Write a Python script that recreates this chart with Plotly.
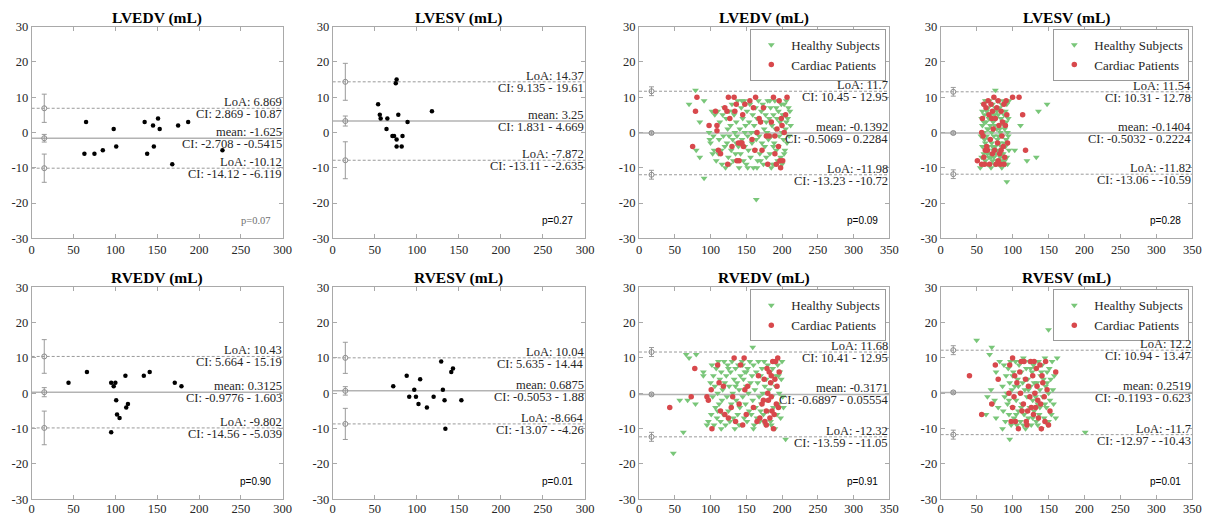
import plotly.graph_objects as go

SERIF = "Liberation Serif"
SANS = "Liberation Sans"

# ---------------- panel-level data ----------------
titles = ["LVEDV (mL)", "LVESV (mL)", "LVEDV (mL)", "LVESV (mL)",
          "RVEDV (mL)", "RVESV (mL)", "RVEDV (mL)", "RVESV (mL)"]
x_max = [300, 300, 350, 350, 300, 300, 350, 350]
ci_marker_x = [15, 15, 17.5, 17.5, 15, 15, 17.5, 17.5]
p_values = ["p=0.07", "p=0.27", "p=0.09", "p=0.28", "p=0.90", "p=0.01", "p=0.91", "p=0.01"]

loa_upper = [6.869, 14.37, 11.7, 11.54, 10.43, 10.04, 11.68, 12.2]
loa_upper_ci = [(2.869, 10.87), (9.135, 19.61), (10.45, 12.95), (10.31, 12.78),
                (5.664, 15.19), (5.635, 14.44), (10.41, 12.95), (10.94, 13.47)]
mean_diff = [-1.625, 3.25, -0.1392, -0.1404, 0.3125, 0.6875, -0.3171, 0.2519]
mean_ci = [(-2.708, -0.5415), (1.831, 4.669), (-0.5069, 0.2284), (-0.5032, 0.2224),
           (-0.9776, 1.603), (-0.5053, 1.88), (-0.6897, 0.05554), (-0.1193, 0.623)]
loa_lower = [-10.12, -7.872, -11.98, -11.82, -9.802, -8.664, -12.32, -11.7]
loa_lower_ci = [(-14.12, -6.119), (-13.11, -2.635), (-13.23, -10.72), (-13.06, -10.59),
                (-14.56, -5.039), (-13.07, -4.26), (-13.59, -11.05), (-12.97, -10.43)]

# ---------------- small cohort (mean, difference) ----------------
lvedv_small = [(65, 3), (98, 1), (135, 3), (145, 2), (151, 4), (153, 1), (175, 2), (187, 3),
               (63, -6), (75, -6), (85, -5), (101, -4), (138, -6), (146, -4), (168, -9), (228, -5)]
lvesv_small = [(54, 8), (56, 5), (57, 4), (65, 4), (64, 1), (76, 15), (75, 14), (78, 5),
               (71, -1), (73, -1), (76, -2), (76, -4), (82, -4), (83, -1), (89, 3), (118, 6)]
rvedv_small = [(44, 3), (66, 6), (95, 3), (98, 2), (100, 3), (101, -2), (102, -6), (105, -7),
               (95, -11), (112, 5), (113, -4), (115, -3), (134, 5), (141, 6), (171, 3), (179, 2)]
rvesv_small = [(72, 2), (88, 5), (91, -1), (97, 1), (99, -1), (102, -3), (104, 4), (112, -4),
               (120, -1), (129, 9), (131, 1), (133, -2), (134, -10), (141, 6), (143, 7), (153, -2)]

# ---------------- large cohort ----------------
lvedv_healthy = [
    (70, 8), (79, 12), (85, 3), (85, -7), (91, 9), (91, -13), (80, -5), (164, -19), (98, 0), (99, -2), (100, -3), (103, -6),
    (102, 6), (104, -1), (106, 5), (108, -8), (110, 6), (112, -2), (113, 3), (115, -5), (116, -9), (118, -1), (119, 7),
    (120, -4), (105, -5), (111, -6), (117, 5),
    (121, -10), (122, 4), (123, -3), (124, 1), (125, -7), (126, 6), (127, -9), (128, 2), (129, -5), (130, 8), (131, -2),
    (132, -8), (133, 5), (134, 0), (135, -6), (136, 3), (137, -1), (138, 9), (139, -4), (140, -10), (126, -1), (131, 6), (136, -3),
    (141, 1), (142, -6), (143, 7), (144, -2), (145, 4), (146, -8), (147, 9), (148, -4), (149, 2), (150, -9), (151, 6),
    (152, -1), (153, -5), (154, 3), (155, 8), (156, -7), (157, 0), (158, -3), (159, 5), (160, -10), (144, 9), (152, -10), (148, 0),
    (161, 2), (162, -5), (163, 7), (164, -2), (165, 4), (166, -8), (167, 9), (168, -1), (169, -6), (170, 3), (171, 6),
    (172, -3), (173, 8), (174, -9), (175, 1), (176, -4), (177, 5), (178, -7), (179, 0), (180, 9), (165, -10), (170, -8),
    (175, 7), (178, 3), (163, 0),
    (181, -2), (182, 4), (183, -6), (184, 7), (185, -1), (186, 2), (187, -9), (188, 5), (189, -3), (190, 9), (191, 1),
    (192, -5), (193, 4), (194, -8), (195, 6), (196, -1), (197, 3), (198, -7), (199, 8), (200, 0), (185, -10), (190, -9),
    (192, 7), (188, -4), (195, -4), (183, 9),
    (201, 5), (202, -2), (203, 8), (204, -5), (205, 1), (206, 9), (207, -3), (208, 4), (209, 7), (210, -1), (211, 6),
    (212, 2), (203, -6), (206, 3), (200, -9), (204, 5)]
lvedv_patients = [
    (81, 10), (79, 6), (75, -4), (98, 2), (109, 2), (109, 0.5), (111, -5), (114, -6), (107, 6), (120, 7), (125, 10),
    (124, -9), (123, 6), (127, 4), (130, -4), (133, 10), (134, 6), (136, 8), (137, -8), (139, -3), (142, -3), (144, -3),
    (145, 5), (146, -4), (140, -8), (148, 8), (155, 9), (158, -2), (160, 7), (162, -5), (163, 10), (165, 0), (168, 4),
    (170, 3), (172, -5), (174, 7), (178, -1), (180, -9), (182, -1), (185, 3), (188, 10), (190, -1), (190, -6), (192, -9),
    (193, 1), (195, -4), (196, 9), (197, -8), (198, -10), (199, 4), (200, 2), (201, -8), (203, 0), (205, 5), (207, 10)]

lvesv_healthy = [
    (76, 12), (92, -14), (103, -5), (111, 2), (120, -8), (133, -7), (136, 6), (148, 8), (55, -10),
    (56, -1), (57, 4), (57, -7), (58, 2), (58, -4), (59, 8), (59, -9), (60, 0), (60, -6), (61, 5), (61, -2), (62, 9),
    (62, -8), (63, 3), (63, -5), (64, -1), (64, 6), (65, -9), (65, 1), (66, 7), (66, -4), (67, -7), (67, 4), (68, -2),
    (68, 9), (69, 2), (69, -6), (70, -10), (70, 5), (71, 0), (71, -3), (72, 8), (72, -8), (73, 3), (73, -5), (74, 6),
    (74, -1), (75, -9), (75, 2), (76, 7), (76, -4), (77, -6), (77, 4), (78, 1), (78, -8), (79, 9), (79, -2), (80, -5),
    (80, 5), (81, 2), (81, -9), (82, -3), (82, 7), (83, 0), (83, -7), (84, 4), (84, -4), (85, 8), (85, -10), (86, -1),
    (86, 3), (87, 9), (87, -6), (88, -3), (88, 5), (89, 1), (89, -8), (90, 6), (90, -4), (91, -2), (91, 3), (92, 8),
    (92, -7), (93, 0), (93, -9), (94, 4), (95, -5), (95, 9), (60, 3), (65, -6), (70, -7), (75, 5), (80, -1), (85, 6),
    (90, -9), (62, -3), (68, 4), (72, -4), (78, 6), (84, -6), (88, 2), (66, 1), (74, -7), (82, 1), (58, 6), (64, 9),
    (76, -9), (86, -8), (94, -1)]
lvesv_patients = [
    (51, -8), (100, 10), (109, 10), (114, 5), (118, -5), (57, -9), (58, 4), (59, -1), (60, 8), (61, -9), (62, -5),
    (63, 7), (64, -4), (66, 9), (67, 5), (68, -9), (69, -2), (70, 8), (71, 4), (72, -6), (73, 1), (74, 10), (75, -5),
    (76, 4), (77, -9), (78, 7), (79, -3), (80, 9), (81, 2), (82, -6), (83, -9), (84, 6), (85, -1), (86, 3), (87, -4),
    (88, 8), (89, -7), (90, 2), (91, 9), (92, 5), (93, -3), (60, -7), (65, -5), (72, 6), (80, -8), (88, -9), (57, 0), (84, -5)]

rvedv_healthy = [
    (66, 11), (70, 10), (80, 11), (62, -11), (48, -17), (57, -2), (68, -2), (79, -3), (159, 13), (205, -13), (90, 6),
    (90, 5), (95, -9), (97, -8),
    (100, 3), (101, -6), (102, 8), (103, -1), (104, 5), (105, -9), (106, 2), (107, -4), (108, 7), (109, -7), (110, 0),
    (111, 9), (112, -3), (113, 4), (114, -8), (115, 6), (116, -2), (117, 1), (118, -6), (119, 9), (120, 3), (121, -9),
    (122, 5), (123, -1), (124, 8), (125, -5), (126, 2), (127, -8), (128, 6), (129, -3), (130, 9), (131, 0), (132, -7),
    (133, 4), (134, -10), (135, 7), (136, -2), (137, 3), (138, -6), (139, 8), (140, 1), (141, -4), (142, 5), (143, -9),
    (144, 9), (145, -1), (146, 4), (147, -7), (148, 6), (149, -3), (150, 2), (151, -8), (152, 7), (153, 0), (154, -5),
    (155, 9), (156, 3), (157, -6), (158, 5), (159, -2), (160, 8), (161, -9), (162, 1), (163, -4), (164, 6), (165, -7),
    (166, 3), (167, 9), (168, -1), (169, -8), (170, 5), (171, -3), (172, 7), (173, 0), (174, -6), (175, 9), (176, 2),
    (177, -9), (178, 4), (179, -2), (180, 8), (181, -5), (182, 1), (183, 6), (184, -8), (185, 3), (186, -1), (187, 7),
    (188, -4), (189, 9), (190, -10), (191, 2), (192, 5), (193, -6), (194, 8), (195, -3), (196, 0), (197, 6), (198, -7),
    (199, 4), (200, 9), (201, -1), (202, -4), (115, -10), (140, -9), (160, -10), (185, -9), (125, 7), (150, 6),
    (175, -8), (110, -5), (135, 2), (145, 8), (170, -5), (195, 5)]
rvedv_patients = [
    (43, -4), (73, -1), (78, 7), (95, -1), (97, -2), (101, 1), (102, -10), (110, 8), (112, 3), (114, -5), (118, 2),
    (120, -6), (125, -7), (129, -4), (131, -1), (133, 10), (135, -8), (140, -3), (142, 8), (145, -9), (147, 10),
    (148, 1), (150, -6), (152, 2), (160, -4), (165, -8), (167, 5), (169, -7), (172, -3), (174, -2), (175, 4), (176, -8),
    (178, -9), (179, 7), (180, 0), (181, -2), (182, 6), (183, -7), (184, 3), (185, -1), (186, -5), (187, 9), (188, -10),
    (189, -6), (190, 4), (191, 9), (192, -3), (193, 2), (194, 10), (195, -4), (196, 6), (185, 5), (178, -5)]

rvesv_healthy = [
    (50, 15), (71, 13), (68, 11), (150, 18), (96, -13), (201, -11), (63, -6), (86, -10), (77, -7), (65, -1), (70, 1),
    (72, -3), (77, 6), (75, -2), (80, -4), (82, 9),
    (86, 2), (87, -5), (88, 8), (89, -1), (90, -8), (91, 5), (92, 0), (93, -3), (94, 7), (95, -6), (96, 3), (97, 9),
    (98, -9), (99, 1), (100, -4), (101, 6), (102, -7), (103, 2), (104, 9), (105, -2), (106, -9), (107, 4), (108, -5),
    (109, 8), (110, 0), (111, -8), (112, 6), (113, -3), (114, 3), (115, 10), (116, -6), (117, 1), (118, -10), (119, 7),
    (120, -1), (121, 4), (122, -7), (123, 9), (124, -4), (125, 2), (126, -9), (127, 6), (128, -2), (129, 8), (130, -5),
    (131, 0), (132, 7), (133, -8), (134, 3), (135, -3), (136, 9), (137, -6), (138, 1), (139, 5), (140, -10), (141, 8),
    (142, -1), (143, 4), (144, -7), (145, 10), (146, 2), (147, -4), (148, 6), (149, -9), (150, 0), (151, 7), (152, -2),
    (153, 4), (154, -6), (155, 9), (156, 1), (157, -3), (158, 5), (160, -7), (162, 10), (100, 5), (105, -6), (110, 9),
    (115, -9), (120, -5), (125, 7), (130, 3), (135, -9), (140, 6), (145, -3), (150, -8), (95, -2), (108, 2), (118, 4),
    (128, -7), (138, -4), (148, 3), (112, -4), (122, 1), (132, -1)]
rvesv_patients = [
    (40, 5), (57, -6), (76, 8), (80, 4), (71, -3), (96, 8), (100, 10), (160, 6), (152, -5), (95, 0), (98, -8),
    (100, -4), (102, -1), (104, -8), (106, 3), (108, -10), (110, 6), (112, 9), (113, -5), (115, -3), (116, 9), (118, 4),
    (119, -8), (120, -9), (122, 2), (124, -1), (125, 9), (126, -4), (128, 5), (129, -6), (130, 9), (131, 0), (132, -4),
    (134, 2), (135, -2), (136, -7), (138, 8), (139, -3), (140, -10), (141, 5), (142, 3), (144, -1), (145, -8), (146, 9),
    (148, 1), (150, -9), (103, 5), (111, 0), (121, -5), (133, 7)]

small_sets = {1: lvedv_small, 2: lvesv_small, 5: rvedv_small, 6: rvesv_small}
group_sets = {3: (lvedv_healthy, lvedv_patients), 4: (lvesv_healthy, lvesv_patients),
              7: (rvedv_healthy, rvedv_patients), 8: (rvesv_healthy, rvesv_patients)}

# ---------------- layout geometry (pixels) ----------------
W, H = 1206, 515
col_px = [(31.7, 282.7), (332.7, 585.0), (639.0, 889.3), (940.7, 1192.3)]
row_px = [(26.7, 238.3), (287.3, 499.3)]

GRAY = "#a9a9a9"
TXT = "#262626"
GREEN = "#79c679"
RED = "#d8484c"

fig = go.Figure()
layout = dict(width=W, height=H, margin=dict(l=0, r=0, t=0, b=0),
              paper_bgcolor="white", plot_bgcolor="white", showlegend=True)
annotations = []
shapes = []
legend_names = {3: "legend", 4: "legend2", 7: "legend3", 8: "legend4"}

for i in range(8):
    n = i + 1
    r, c = divmod(i, 4)
    x0p, x1p = col_px[c]
    y0p, y1p = row_px[r]
    xs = "" if n == 1 else str(n)
    xm = x_max[i]
    xt = list(range(0, xm + 1, 50))
    yt = list(range(-30, 31, 10))
    layout[f"xaxis{xs}"] = dict(
        domain=[x0p / W, x1p / W], range=[0, xm], anchor=f"y{xs}",
        showgrid=False, zeroline=False, showline=True, mirror="ticks",
        linecolor=GRAY, linewidth=1, ticks="inside", ticklen=4, tickcolor=GRAY,
        tickvals=xt, ticktext=[str(v) for v in xt], automargin=False,
        ticklabelstandoff=(-2 if r == 1 else 0),
        tickfont=dict(family=SERIF, size=12.5, color=TXT))
    layout[f"yaxis{xs}"] = dict(
        domain=[1 - y1p / H, 1 - y0p / H], range=[-30, 30], anchor=f"x{xs}",
        showgrid=False, zeroline=False, showline=True, mirror="ticks",
        linecolor=GRAY, linewidth=1, ticks="inside", ticklen=4, tickcolor=GRAY,
        tickvals=yt, ticktext=[str(v) for v in yt], automargin=False,
        tickfont=dict(family=SERIF, size=12.5, color=TXT))
    xr, yr = f"x{xs}", f"y{xs}"

    # reference lines
    for val, dash, w, col in [(loa_upper[i], "3px,2px", 1, "#9a9a9a"),
                              (loa_lower[i], "3px,2px", 1, "#9a9a9a"),
                              (mean_diff[i], "solid", 1.5, "#b3b3b3")]:
        shapes.append(dict(type="line", xref=f"{xr} domain", x0=0, x1=1, yref=yr, y0=val, y1=val,
                           line=dict(color=col, width=w, dash=dash), layer="below"))

    # data points
    if n in small_sets:
        pts = small_sets[n]
        fig.add_trace(go.Scatter(x=[p[0] for p in pts], y=[p[1] for p in pts], mode="markers",
                                 xaxis=xr, yaxis=yr, showlegend=False,
                                 marker=dict(color="black", size=4.5)))
    else:
        healthy, patients = group_sets[n]
        lg = legend_names[n]
        fig.add_trace(go.Scatter(x=[p[0] for p in healthy], y=[p[1] for p in healthy], mode="markers",
                                 xaxis=xr, yaxis=yr, name="Healthy Subjects", legend=lg,
                                 marker=dict(color=GREEN, size=6, symbol="triangle-down",
                                             line=dict(width=0))))
        fig.add_trace(go.Scatter(x=[p[0] for p in patients], y=[p[1] for p in patients], mode="markers",
                                 xaxis=xr, yaxis=yr, name="Cardiac Patients", legend=lg,
                                 marker=dict(color=RED, size=5.5, symbol="circle", line=dict(width=0))))
        layout[lg] = dict(x=(x1p - 3) / W, y=1 - (y0p + 2) / H, xanchor="right", yanchor="top",
                          bgcolor="white", bordercolor="#9a9a9a", borderwidth=1,
                          font=dict(family=SERIF, size=13, color=TXT), itemwidth=30,
                          tracegroupgap=0)

    # CI error bars
    vals = [loa_upper[i], mean_diff[i], loa_lower[i]]
    cis = [loa_upper_ci[i], mean_ci[i], loa_lower_ci[i]]
    fig.add_trace(go.Scatter(
        x=[ci_marker_x[i]] * 3, y=vals, mode="markers", xaxis=xr, yaxis=yr, showlegend=False,
        marker=dict(symbol="circle-open", size=5, color="#8c8c8c", line=dict(width=1)),
        error_y=dict(type="data", symmetric=False,
                     array=[ci[1] - v for v, ci in zip(vals, cis)],
                     arrayminus=[v - ci[0] for v, ci in zip(vals, cis)],
                     color="#9a9a9a", thickness=1, width=2.5)))

    # text labels
    labels = [("LoA: " + str(loa_upper[i]), "CI: %s - %s" % loa_upper_ci[i], loa_upper[i]),
              ("mean: " + str(mean_diff[i]), "CI: %s - %s" % mean_ci[i], mean_diff[i]),
              ("LoA: " + str(loa_lower[i]), "CI: %s - %s" % loa_lower_ci[i], loa_lower[i])]
    for top_txt, bot_txt, yv in labels:
        annotations.append(dict(text=top_txt, xref=f"{xr} domain", x=1, xanchor="right",
                                yref=yr, y=yv, yanchor="bottom", yshift=-2, showarrow=False,
                                font=dict(family=SERIF, size=12.5, color=TXT), borderpad=0))
        annotations.append(dict(text=bot_txt, xref=f"{xr} domain", x=1, xanchor="right",
                                yref=yr, y=yv, yanchor="top", yshift=2, showarrow=False,
                                font=dict(family=SERIF, size=12.5, color=TXT), borderpad=0))

    # title
    annotations.append(dict(text="<b>%s</b>" % titles[i], xref=f"{xr} domain", x=0.5, xanchor="center",
                            yref=f"{yr} domain", y=1, yanchor="bottom", yshift=-2, showarrow=False,
                            font=dict(family=SERIF, size=15.5, color="black")))

    # p-value
    if n == 1:
        pfont = dict(family=SERIF, size=10.5, color="#707070")
    else:
        pfont = dict(family=SANS, size=10, color="black")
    annotations.append(dict(text=p_values[i], xref=f"{xr} domain", x=0.962, xanchor="right",
                            yref=yr, y=-25, yanchor="middle", showarrow=False, font=pfont))

layout["annotations"] = annotations
layout["shapes"] = shapes
fig.update_layout(**layout)
fig.write_html("out.html", config={"displayModeBar": False},
               post_script="document.body.style.margin='0px';document.body.style.overflow='hidden';")
